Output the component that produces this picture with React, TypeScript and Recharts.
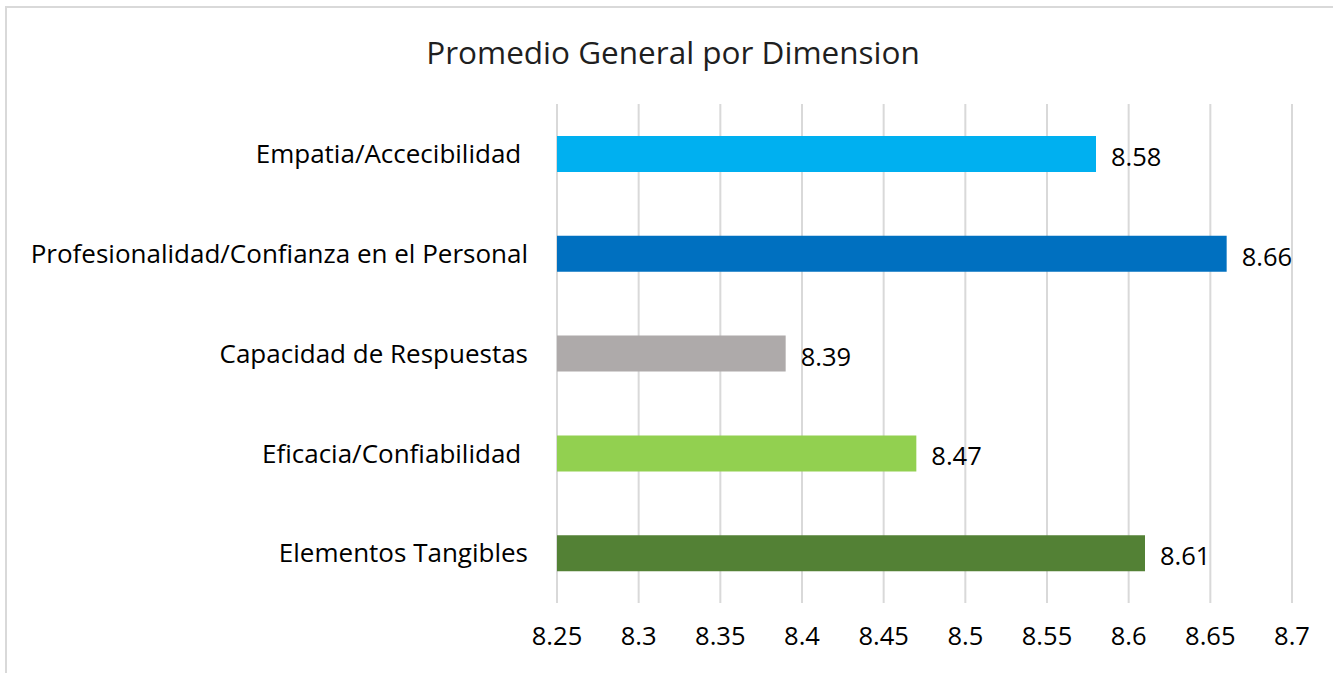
import React from "react";
import { BarChart, Bar, XAxis, YAxis, CartesianGrid, Cell, LabelList } from "recharts";

const categories = [
  "Empatia/Accecibilidad ",
  "Profesionalidad/Confianza en el Personal",
  "Capacidad de Respuestas",
  "Eficacia/Confiabilidad ",
  "Elementos Tangibles",
];
const values = [8.58, 8.66, 8.39, 8.47, 8.61];
const barColors = ["#00b0f0", "#0070c0", "#aeaaaa", "#92d050", "#538135"];
const xTicks = [8.25, 8.3, 8.35, 8.4, 8.45, 8.5, 8.55, 8.6, 8.65, 8.7];

const data = categories.map((name, i) => ({ name, value: values[i] }));

const FONT = "'Open Sans', 'Noto Sans', sans-serif";

export default function App() {
  return (
    <div style={{ position: "relative", width: 1333, height: 673, overflow: "hidden", background: "#fff", fontFamily: FONT }}>
      <style>{`body{margin:0}`}</style>
      <div
        style={{
          position: "absolute",
          left: 5,
          top: 6,
          width: 1350,
          height: 700,
          border: "2px solid #d9d9d9",
          boxSizing: "border-box",
        }}
      />
      <div
        style={{
          position: "absolute",
          left: 0,
          top: 29,
          width: 1346,
          textAlign: "center",
          fontSize: 31.5,
          color: "#1f1f1f",
          lineHeight: "46px",
        }}
      >
        Promedio General por Dimension
      </div>
      <div style={{ position: "absolute", left: 0, top: 0 }}>
        <BarChart
          width={1333}
          height={673}
          data={data}
          layout="vertical"
          margin={{ top: 104, right: 41, bottom: 0, left: 0 }}
        >
          <CartesianGrid horizontal={false} stroke="#d9d9d9" strokeWidth={2} />
          <XAxis
            type="number"
            domain={[8.25, 8.7]}
            ticks={xTicks}
            axisLine={false}
            tickLine={false}
            tickSize={0}
            tickMargin={24}
            height={70}
            interval={0}
            tick={{ fill: "#000", fontSize: 25.5, fontFamily: FONT }}
          />
          <YAxis
            type="category"
            dataKey="name"
            width={557}
            axisLine={false}
            tickLine={false}
            tickSize={0}
            tickMargin={29}
            interval={0}
            tick={{ fill: "#000", fontSize: 26, fontFamily: FONT, style: { whiteSpace: "pre" } }}
          />
          <Bar dataKey="value" barSize={36} isAnimationActive={false}>
            {data.map((d, i) => (
              <Cell key={d.name} fill={barColors[i]} />
            ))}
            <LabelList
              dataKey="value"
              position="right"
              offset={15}
              fill="#000"
              fontSize={25.5}
              fontFamily={FONT}
              dy={3}
            />
          </Bar>
        </BarChart>
      </div>
    </div>
  );
}
